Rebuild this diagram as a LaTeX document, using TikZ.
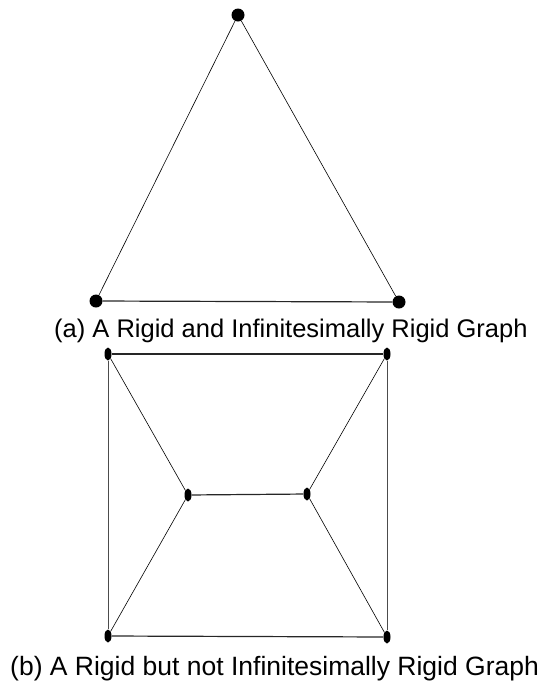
\documentclass[tikz,border=0pt]{standalone}
\usepackage{fontspec}
\setmainfont{Liberation Sans}
\usetikzlibrary{positioning, shapes.geometric}
\tikzstyle{vtx}     = [circle, fill=black, inner sep=0pt, minimum size=13pt]
\tikzstyle{vtxthin} = [ellipse, fill=black, inner sep=0pt, minimum width=7pt,
                       minimum height=13pt]
\tikzstyle{edge}    = [line width=0.6pt, black]
\tikzstyle{vedge}   = [line width=0.5pt, black!70]
\tikzstyle{hedge}   = [line width=1.2pt, black!85]
\tikzstyle{caption} = [inner sep=0pt, anchor=base west]

\begin{document}
\begin{tikzpicture}[x=1pt, y=-1pt]
  \useasboundingbox (0,0) rectangle (542,681);

  %% ── Graph (a) ──
  \node[vtx] (top) at (238,15) {};
  \node[vtx] (bl)  at (96,301) {};
  \node[vtx] (br)  at (399,302) {};
  \draw[edge]  (top) -- (bl);
  \draw[edge]  (top) -- (br);
  \draw[hedge] (bl) -- (br);
  \node[caption, font=\fontsize{25.5}{30}\selectfont] (capa) at (54,337)
       {(a) A Rigid and Infinitesimally Rigid Graph};

  %% ── Graph (b) ──
  \node[vtxthin] (tl) at (108,354) {};
  \node[vtxthin] (tr) at (387,354) {};
  \node[vtxthin] (ml) at (188,495) {};
  \node[vtxthin] (mr) at (307,494) {};
  \node[vtxthin] (dl) at (108,636) {};
  \node[vtxthin] (dr) at (387,637) {};
  \draw[hedge] (tl) -- (tr);
  \draw[edge]  (tl) -- (ml);
  \draw[edge]  (tr) -- (mr);
  \draw[hedge] (ml) -- (mr);
  \draw[edge]  (ml) -- (dl);
  \draw[edge]  (mr) -- (dr);
  \draw[vedge] (tl) -- (dl);
  \draw[vedge] (tr) -- (dr);
  \draw[hedge] (dl) -- (dr);
  \node[caption, font=\fontsize{26.5}{31}\selectfont] (capb) at (10,675)
       {(b) A Rigid but not Infinitesimally Rigid Graph};

\end{tikzpicture}
\end{document}
